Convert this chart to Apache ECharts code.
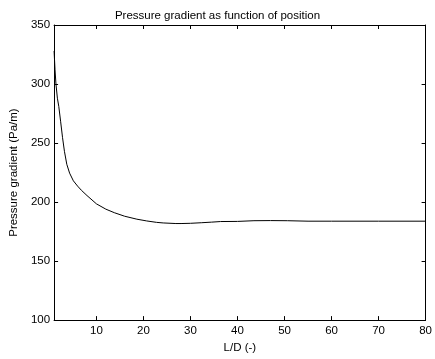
<!DOCTYPE html>
<html>
<head>
<meta charset="utf-8">
<script src="https://cdn.jsdelivr.net/npm/echarts@6/dist/echarts.min.js"></script>
<style>
html,body{margin:0;padding:0;background:#fff;}
#chart{width:435px;height:359px;}
</style>
</head>
<body>
<div id="chart"></div>
<script>
const titleText = "Pressure gradient as function of position";
const xName = "L/D (-)";
const yName = "Pressure gradient (Pa/m)";
const xTicks = [10, 20, 30, 40, 50, 60, 70, 80];
const yTicks = [100, 150, 200, 250, 300, 350];
const xValues = [1, 1.2, 1.4, 1.7, 2, 2.4, 2.8, 3.2, 3.7, 4.3, 5.1, 6, 6.8, 8, 10, 12, 13.8, 16, 18.6, 20.7, 22.8, 24.2, 26.9, 28, 30, 32.4, 34.5, 36.4, 40, 43.5, 47, 50.6, 55, 60, 70, 80];
const yValues = [328, 312, 300, 288, 281, 268, 254.5, 243, 232, 224.5, 218, 213.5, 210, 205.5, 198.5, 194, 191, 188, 185.5, 184, 182.8, 182.3, 181.8, 181.8, 182, 182.5, 183, 183.5, 183.6, 184.2, 184.3, 184.2, 183.8, 183.8, 183.8, 183.8];

const font = "Liberation Sans, Arial, sans-serif";
const fs = 11.5;
const chart = echarts.init(document.getElementById('chart'), null, {renderer: 'canvas'});
const axisLine = {show: true, lineStyle: {color: '#000', width: 1}};
chart.setOption({
  animation: false,
  backgroundColor: '#fff',
  title: {
    text: titleText, left: 'center', top: 5,
    textStyle: {fontFamily: font, fontSize: fs, fontWeight: 'normal', color: '#000'}
  },
  grid: {left: 48, right: 5, top: 25, bottom: 33},
  xAxis: [{
    type: 'value', min: 1, max: 80, position: 'bottom',
    name: xName, nameLocation: 'middle', nameGap: 20,
    nameTextStyle: {fontFamily: font, fontSize: fs, color: '#000'},
    axisLine: axisLine,
    axisTick: {show: true, inside: true, length: 4, customValues: xTicks, lineStyle: {color: '#000'}},
    axisLabel: {customValues: xTicks, fontFamily: font, fontSize: fs, color: '#000', margin: 5},
    splitLine: {show: false}
  }, {
    type: 'value', min: 1, max: 80, position: 'top',
    axisLine: axisLine,
    axisTick: {show: true, inside: true, length: 4, customValues: xTicks, lineStyle: {color: '#000'}},
    axisLabel: {show: false},
    splitLine: {show: false}
  }],
  yAxis: [{
    type: 'value', min: 100, max: 350, interval: 50, position: 'left',
    name: yName, nameLocation: 'middle', nameGap: 30, nameRotate: 90,
    nameTextStyle: {fontFamily: font, fontSize: fs, color: '#000'},
    axisLine: axisLine,
    axisTick: {show: true, inside: true, length: 4, lineStyle: {color: '#000'}},
    axisLabel: {fontFamily: font, fontSize: fs, color: '#000', margin: 4},
    splitLine: {show: false}
  }, {
    type: 'value', min: 100, max: 350, interval: 50, position: 'right',
    axisLine: axisLine,
    axisTick: {show: true, inside: true, length: 4, lineStyle: {color: '#000'}},
    axisLabel: {show: false},
    splitLine: {show: false}
  }],
  series: [{
    type: 'line',
    data: xValues.map((x, i) => [x, yValues[i]]),
    showSymbol: false,
    symbol: 'none',
    smooth: false,
    lineStyle: {color: '#000', width: 1},
    clip: true
  }]
});
</script>
</body>
</html>
